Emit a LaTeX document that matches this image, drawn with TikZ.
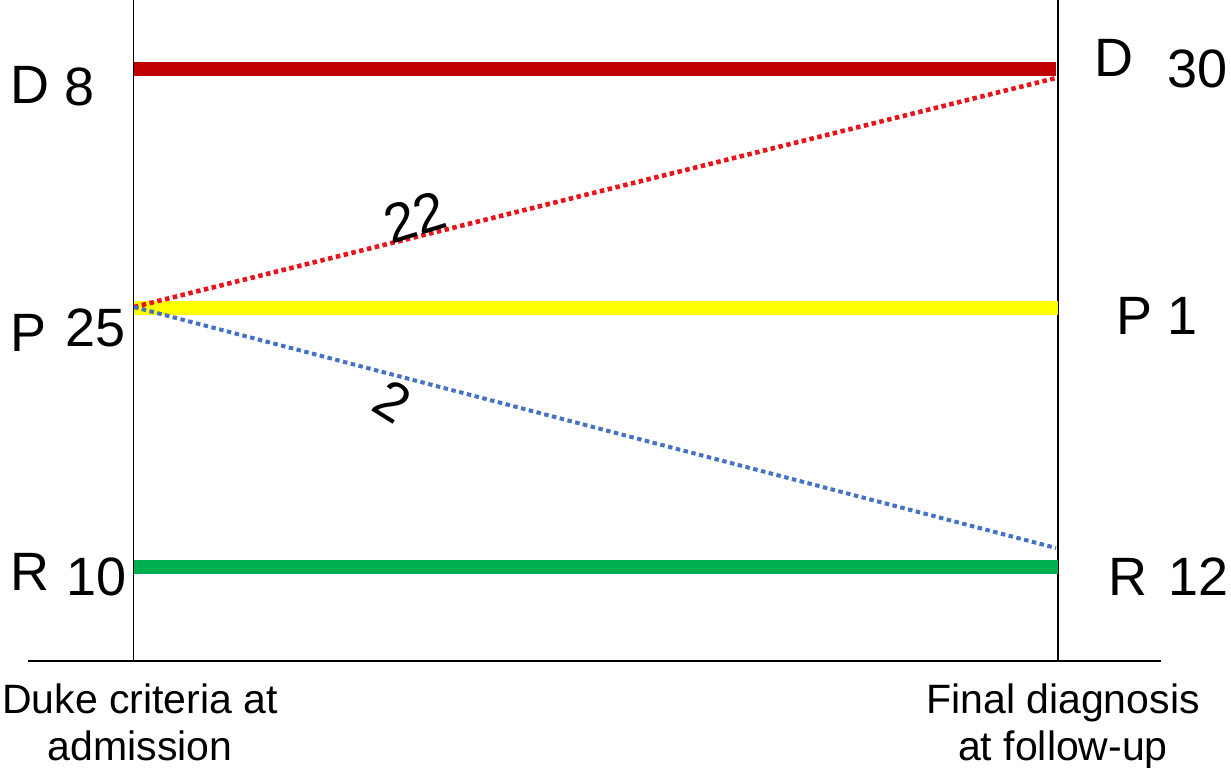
\documentclass[tikz,border=0pt]{standalone}
\usepackage{fontspec}
\setmainfont{Liberation Sans}
\definecolor{dred}{HTML}{C00000}
\definecolor{dotred}{HTML}{E8141B}
\definecolor{dotblue}{HTML}{4472C4}
\definecolor{lgreen}{HTML}{00B050}
\definecolor{lyellow}{HTML}{FFFF00}
\begin{document}
\begin{tikzpicture}[x=1pt,y=-1pt,
  big/.style={inner sep=0pt,anchor=base west,font=\fontsize{54}{60}\selectfont},
  captext/.style={inner sep=0pt,anchor=base,font=\fontsize{41}{47}\selectfont},
  band/.style={line width=13.5pt},
  dots/.style={line width=4.6pt,dash pattern=on 4.5pt off 3.5pt}]
\useasboundingbox (0,0) rectangle (1231,768);
% axes
\coordinate (Ltop) at (133.5,0);
\coordinate (Lbot) at (133.5,661);
\coordinate (Rtop) at (1058,0);
\coordinate (Rbot) at (1058,661);
\coordinate (bL) at (28,661);
\coordinate (bR) at (1161,661);
\draw[line width=1.2pt] (Ltop) -- (Lbot);
\draw[line width=2.6pt] (Rtop) -- (Rbot);
\draw[line width=2.8pt] (bL) -- (bR);
% bands
\coordinate (D0) at (134,69);  \coordinate (D1) at (1056,69);
\coordinate (P0) at (134,308); \coordinate (P1) at (1058,308);
\coordinate (R0) at (134,567); \coordinate (R1) at (1058,567);
\draw[band,dred] (D0) -- (D1);
\draw[band,lyellow] (P0) -- (P1);
\draw[band,lgreen] (R0) -- (R1);
% transitions
\coordinate (S) at (134,307);
\coordinate (Dend) at (1056,78);
\coordinate (Rend) at (1056,548);
\draw[dots,dotred] (S) -- (Dend);
\draw[dots,dotblue,line width=4pt] (S) -- (Rend);
\node[font=\fontsize{55}{60}\selectfont,rotate=17,inner sep=0pt] (n22) at (415,217) {22};
\node[font=\fontsize{55}{60}\selectfont,rotate=-32,inner sep=0pt] (n2) at (393,401) {2};
% left labels
\node[big] (lD) at (10,103) {D};
\node[big] (l8) at (64,105) {8};
\node[big] (lP) at (10,351) {P};
\node[big] (l25) at (65,346) {25};
\node[big] (lR) at (10,590) {R};
\node[big] (l10) at (66,595) {10};
% right labels
\node[big] (rD) at (1094,77) {D};
\node[big] (r30) at (1167,87) {30};
\node[big] (rP) at (1116,334) {P};
\node[big] (r1) at (1167,334) {1};
\node[big] (rR) at (1108,595) {R};
\node[big] (r12) at (1168,595) {12};
% captions
\node[captext] (c1a) at (140,713) {Duke criteria at};
\node[captext] (c1b) at (140,760) {admission};
\node[captext] (c2a) at (1063,713) {Final diagnosis};
\node[captext] (c2b) at (1063,760) {at follow-up};
\end{tikzpicture}
\end{document}
